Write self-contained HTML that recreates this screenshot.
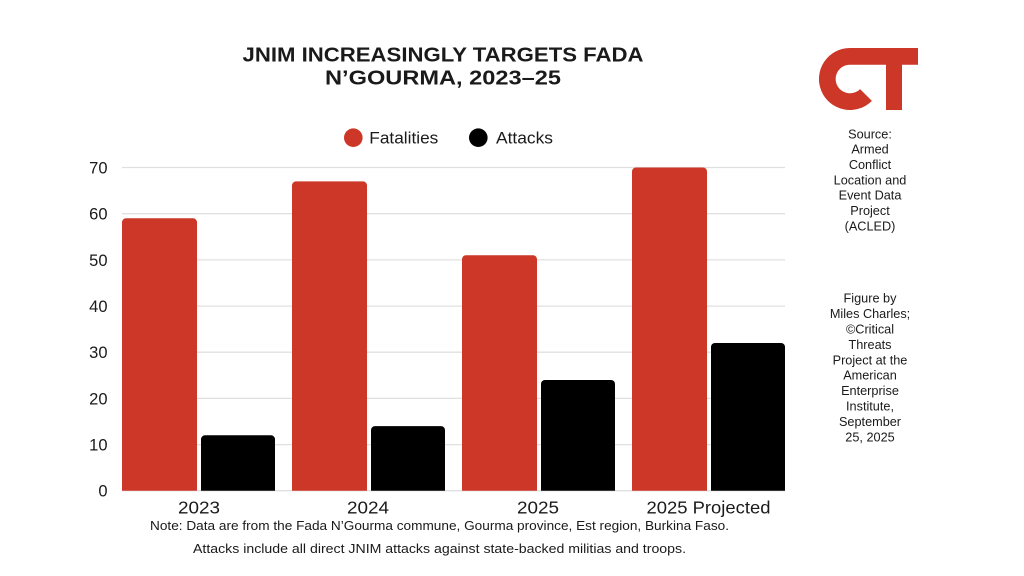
<!DOCTYPE html>
<html>
<head>
<meta charset="utf-8">
<style>
  html, body { margin: 0; padding: 0; background: #ffffff; }
  body { width: 1024px; height: 576px; overflow: hidden; }
  svg { display: block; }
  text { font-family: "Liberation Sans", "DejaVu Sans", sans-serif; fill: #1a1a1a; }
</style>
</head>
<body>
<svg width="1024" height="576" viewBox="0 0 1024 576" xmlns="http://www.w3.org/2000/svg">
  <rect width="1024" height="576" fill="#ffffff"/>

  <!-- Title -->
  <text x="443" y="61.7" text-anchor="middle" font-size="20.5" font-weight="bold" fill="#000" textLength="401" lengthAdjust="spacingAndGlyphs">JNIM INCREASINGLY TARGETS FADA</text>
  <text x="443" y="84.3" text-anchor="middle" font-size="20.5" font-weight="bold" fill="#000" textLength="236" lengthAdjust="spacingAndGlyphs">N’GOURMA, 2023–25</text>

  <!-- Legend -->
  <circle cx="353.3" cy="137.7" r="9.3" fill="#cc3728"/>
  <text x="369.3" y="143.3" font-size="17" textLength="69" lengthAdjust="spacingAndGlyphs">Fatalities</text>
  <circle cx="478.3" cy="137.7" r="9.3" fill="#000"/>
  <text x="496" y="143.3" font-size="17" textLength="57" lengthAdjust="spacingAndGlyphs">Attacks</text>

  <!-- Gridlines -->
  <g stroke="#e0e0e0" stroke-width="1.3">
    <line x1="122" y1="167.5" x2="785" y2="167.5"/>
    <line x1="122" y1="213.7" x2="785" y2="213.7"/>
    <line x1="122" y1="259.9" x2="785" y2="259.9"/>
    <line x1="122" y1="306.1" x2="785" y2="306.1"/>
    <line x1="122" y1="352.2" x2="785" y2="352.2"/>
    <line x1="122" y1="398.4" x2="785" y2="398.4"/>
    <line x1="122" y1="444.6" x2="785" y2="444.6"/>
    <line x1="122" y1="490.7" x2="785" y2="490.7"/>
  </g>

  <!-- Y tick labels -->
  <g font-size="16.5" text-anchor="end">
    <text x="107.5" y="173.5">70</text>
    <text x="107.5" y="219.7">60</text>
    <text x="107.5" y="265.9">50</text>
    <text x="107.5" y="312.1">40</text>
    <text x="107.5" y="358.2">30</text>
    <text x="107.5" y="404.4">20</text>
    <text x="107.5" y="450.6">10</text>
    <text x="107.5" y="496.7">0</text>
  </g>

  <!-- Bars: unit = 4.617 px; base = 490.7 -->
  <g fill="#cc3728">
    <path d="M122,490.7 V222.3 a4,4 0 0 1 4,-4 H193 a4,4 0 0 1 4,4 V490.7 Z"/>
    <path d="M292,490.7 V185.4 a4,4 0 0 1 4,-4 H363 a4,4 0 0 1 4,4 V490.7 Z"/>
    <path d="M462,490.7 V259.2 a4,4 0 0 1 4,-4 H533 a4,4 0 0 1 4,4 V490.7 Z"/>
    <path d="M632,490.7 V171.5 a4,4 0 0 1 4,-4 H703 a4,4 0 0 1 4,4 V490.7 Z"/>
  </g>
  <g fill="#000000">
    <path d="M201,490.7 V439.3 a4,4 0 0 1 4,-4 H271 a4,4 0 0 1 4,4 V490.7 Z"/>
    <path d="M371,490.7 V430.1 a4,4 0 0 1 4,-4 H441 a4,4 0 0 1 4,4 V490.7 Z"/>
    <path d="M541,490.7 V384.0 a4,4 0 0 1 4,-4 H611 a4,4 0 0 1 4,4 V490.7 Z"/>
    <path d="M711,490.7 V347.0 a4,4 0 0 1 4,-4 H781 a4,4 0 0 1 4,4 V490.7 Z"/>
  </g>

  <!-- X labels -->
  <g font-size="17.5" text-anchor="middle">
    <text x="199" y="513.3" textLength="42" lengthAdjust="spacingAndGlyphs">2023</text>
    <text x="368" y="513.3" textLength="42" lengthAdjust="spacingAndGlyphs">2024</text>
    <text x="538" y="513.3" textLength="42" lengthAdjust="spacingAndGlyphs">2025</text>
    <text x="708.5" y="513.3" textLength="124" lengthAdjust="spacingAndGlyphs">2025 Projected</text>
  </g>

  <!-- Notes -->
  <text x="439.5" y="530" text-anchor="middle" font-size="12.5" textLength="579" lengthAdjust="spacingAndGlyphs">Note: Data are from the Fada N’Gourma commune, Gourma province, Est region, Burkina Faso.</text>
  <text x="439.5" y="553" text-anchor="middle" font-size="12.5" textLength="493" lengthAdjust="spacingAndGlyphs">Attacks include all direct JNIM attacks against state-backed militias and troops.</text>

  <!-- CT logo -->
  <path fill="#cc3728" d="M850,48 H918 V64.7 H902 V110 H886 V64.7 H850 A14.3,14.3 0 1 0 860.1,89.1 L871.9,100.9 A31,31 0 1 1 850,48 Z"/>

  <!-- Right column text -->
  <g font-size="12.7" text-anchor="middle">
    <text x="870" y="138.3">Source:</text>
    <text x="870" y="153.7">Armed</text>
    <text x="870" y="169.0">Conflict</text>
    <text x="870" y="184.4">Location and</text>
    <text x="870" y="199.7">Event Data</text>
    <text x="870" y="215.1">Project</text>
    <text x="870" y="230.4">(ACLED)</text>

    <text x="870" y="302.7">Figure by</text>
    <text x="870" y="318.1">Miles Charles;</text>
    <text x="870" y="333.5">©Critical</text>
    <text x="870" y="348.9">Threats</text>
    <text x="870" y="364.3">Project at the</text>
    <text x="870" y="379.7">American</text>
    <text x="870" y="395.1">Enterprise</text>
    <text x="870" y="410.5">Institute,</text>
    <text x="870" y="425.9">September</text>
    <text x="870" y="441.3">25, 2025</text>
  </g>
</svg>
</body>
</html>
